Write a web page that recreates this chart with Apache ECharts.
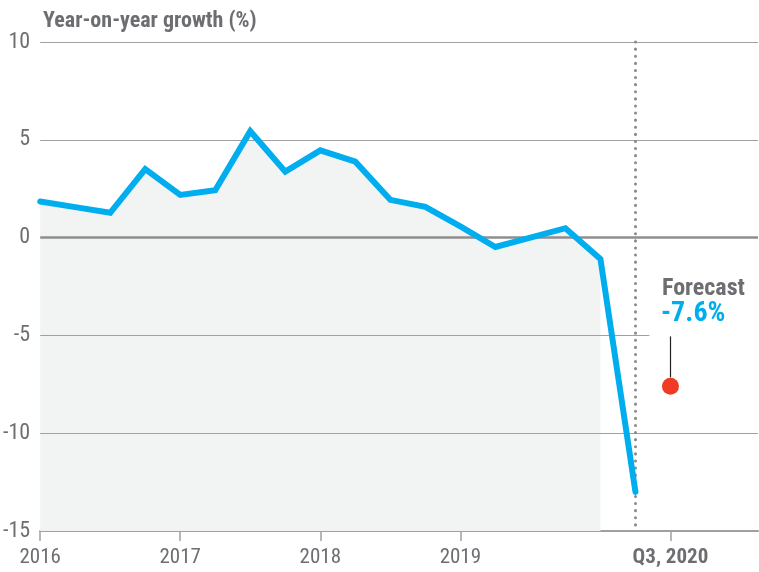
<!DOCTYPE html>
<html>
<head>
<meta charset="utf-8">
<script src="https://cdn.jsdelivr.net/npm/echarts@6/dist/echarts.min.js"></script>
<style>
    html, body { margin: 0; padding: 0; background: #fff; }
    #chart { width: 759px; height: 572px; }
</style>
</head>
<body>
<div id="chart"></div>
<script>
    // quarterly year-on-year growth, %
    var quarters = ['2016 Q1', '2016 Q2', '2016 Q3', '2016 Q4',
        '2017 Q1', '2017 Q2', '2017 Q3', '2017 Q4',
        '2018 Q1', '2018 Q2', '2018 Q3', '2018 Q4',
        '2019 Q1', '2019 Q2', '2019 Q3', '2019 Q4',
        '2020 Q1', '2020 Q2'];
    var growth = [1.85, 1.56, 1.27, 3.5, 2.18, 2.42, 5.44, 3.37, 4.46,
        3.88, 1.93, 1.57, 0.57, -0.48, 0.0, 0.48, -1.09, -13.0];
    // area shading stops at the last full-data quarter
    var shadedUntil = '2020 Q1';
    var forecastQuarter = 'Q3, 2020';
    var forecastValue = -7.6;
    var tickPositions = [0, 4, 8, 12, 18];
    var tickLabels = ['2016', '2017', '2018', '2019', 'Q3, 2020'];
    var yTicks = [10, 5, 0, -5, -10];

    var FONT = "'Liberation Sans Narrow', 'Roboto Condensed', Roboto, sans-serif";
    var GRID_GRAY = '#a0a0a0';
    var TEXT_GRAY = '#6d6e71';
    var BLUE = '#00aeef';

    var lineData = growth.map(function (v, i) { return [i, v]; });
    var areaData = lineData.slice(0, quarters.indexOf(shadedUntil) + 1);
    var forecastX = quarters.length; // one quarter after the last actual

    var gridLines = yTicks.map(function (v) {
        var end = v === -5 ? 17.4 : 20.5;
        return [
            {
                coord: [0, v],
                lineStyle: {
                    type: 'solid',
                    width: v === 0 ? 2.5 : 1.2,
                    color: v === 0 ? '#8e8e8e' : GRID_GRAY
                }
            },
            { coord: [end, v] }
        ];
    });

    var chart = echarts.init(document.getElementById('chart'));
    var option = {
        animation: false,
        backgroundColor: '#fff',
        title: {
            text: 'Year-on-year growth (%)',
            left: 38,
            top: 5,
            textStyle: {
                color: TEXT_GRAY,
                fontFamily: FONT,
                fontSize: 22,
                fontWeight: 'bold'
            }
        },
        grid: {
            left: 40,
            right: 1,
            top: 42,
            bottom: 41,
            containLabel: false
        },
        xAxis: {
            type: 'value',
            min: 0,
            max: 20.5,
            splitLine: { show: false },
            axisLine: { show: true, onZero: false, lineStyle: { color: GRID_GRAY, width: 2 } },
            axisTick: {
                show: true,
                customValues: tickPositions,
                length: 10,
                lineStyle: { color: GRID_GRAY, width: 1.5 }
            },
            axisLabel: {
                customValues: tickPositions,
                margin: 16,
                color: TEXT_GRAY,
                fontFamily: FONT,
                fontSize: 21,
                formatter: function (v) {
                    var lbl = tickLabels[tickPositions.indexOf(v)];
                    return v === forecastX ? '{b|' + lbl + '}' : lbl;
                },
                rich: {
                    b: { fontWeight: 'bold', fontFamily: FONT, fontSize: 21, color: TEXT_GRAY }
                }
            }
        },
        yAxis: {
            type: 'value',
            min: -15,
            max: 10,
            interval: 5,
            splitLine: { show: false },
            axisLine: { show: false },
            axisTick: { show: false },
            axisLabel: {
                margin: 10,
                color: TEXT_GRAY,
                fontFamily: FONT,
                fontSize: 22
            }
        },
        graphic: [
            {
                type: 'text',
                left: 662,
                top: 277,
                style: {
                    text: 'Forecast',
                    fill: TEXT_GRAY,
                    font: 'bold 24px ' + FONT
                },
                z: 10
            },
            {
                type: 'text',
                left: 661,
                top: 300,
                style: {
                    text: forecastValue.toFixed(1) + '%',
                    fill: BLUE,
                    font: 'bold 28px ' + FONT
                },
                z: 10
            }
        ],
        series: [
            {
                name: 'shade',
                type: 'line',
                data: areaData,
                showSymbol: false,
                silent: true,
                z: 1,
                lineStyle: { width: 0 },
                areaStyle: { color: '#f2f4f4', opacity: 1, origin: 'start' },
                markLine: {
                    silent: true,
                    symbol: 'none',
                    z: 2,
                    label: { show: false },
                    lineStyle: { type: 'solid' },
                    data: gridLines.concat([
                        [
                            {
                                coord: [quarters.length - 1, 10],
                                lineStyle: { type: [0.1, 7], color: '#8a8a8a', width: 3, cap: 'round' }
                            },
                            { coord: [quarters.length - 1, -15] }
                        ]
                    ])
                }
            },
            {
                name: 'Year-on-year growth',
                type: 'line',
                data: lineData,
                showSymbol: false,
                z: 3,
                lineStyle: { color: BLUE, width: 6, cap: 'round', join: 'miter' },
                itemStyle: { color: BLUE }
            },
            {
                name: 'Forecast',
                type: 'scatter',
                data: [[forecastX, forecastValue]],
                symbolSize: 17,
                z: 4,
                itemStyle: { color: '#ef3b24', opacity: 1 },
                markLine: {
                    silent: true,
                    symbol: 'none',
                    z: 4,
                    label: { show: false },
                    lineStyle: { color: '#222', width: 1.2, type: 'solid' },
                    data: [
                        [{ coord: [forecastX, -5.05] }, { coord: [forecastX, forecastValue + 0.45] }]
                    ]
                }
            }
        ]
    };
    chart.setOption(option);
</script>
</body>
</html>
